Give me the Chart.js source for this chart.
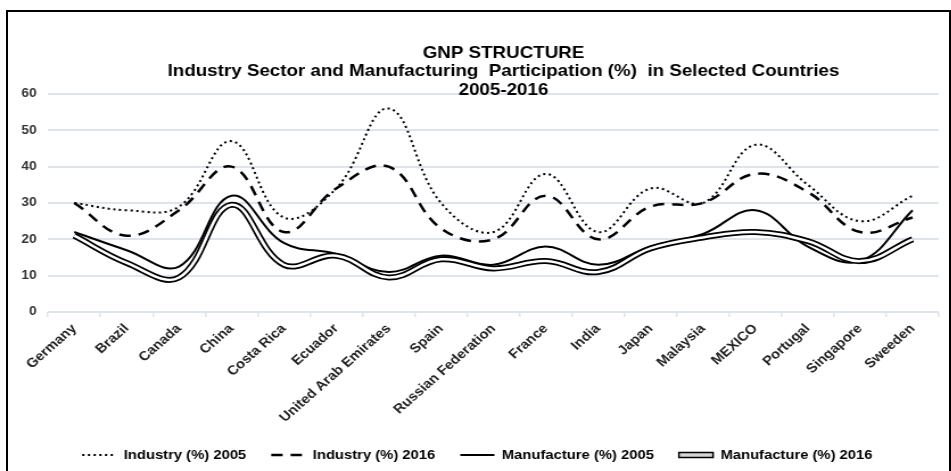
<!DOCTYPE html>
<html>
<head>
<meta charset="utf-8">
<script src="https://cdn.jsdelivr.net/npm/chart.js@4.4.1/dist/chart.umd.min.js"></script>
<style>
  body { margin: 0; background: #fff; }
  #frame {
    position: absolute; left: 6px; top: 10px; width: 941px; height: 470px;
    border-left: 2px solid #000; border-top: 2px solid #000; border-right: 2px solid #000;
  }
  #frame canvas { display: block; }
</style>
</head>
<body>
<div id="frame">
  <!-- drawn at 827 wide and shown at 941: the source picture is stretched sideways the same way -->
  <canvas id="gnpChart" width="827" height="462" style="width:941px;height:462px"></canvas>
</div>
<script>
const countries = ['Germany', 'Brazil', 'Canada', 'China', 'Costa Rica', 'Ecuador', 'United Arab Emirates', 'Spain',
  'Russian Federation', 'France', 'India', 'Japan', 'Malaysia', 'MEXICO', 'Portugal', 'Singapore', 'Sweeden'];

const industry2005 = [30, 28, 29, 47, 26, 34, 56, 30, 22, 38, 22, 34, 30, 46, 35, 25, 32];
const industry2016 = [30, 21, 28, 40, 22, 34, 40, 23, 20, 32, 20, 29, 30, 38, 33, 22, 26];
const manufacture2005 = [22, 17, 12.5, 32, 19, 16, 11, 15.5, 13, 18, 13, 18, 21.5, 28, 18, 14, 28];
const manufacture2016 = [21, 13.5, 9.5, 29.5, 13, 15.5, 9.5, 14.5, 12, 14, 11, 17.5, 20.5, 22, 19.5, 14, 20];

const yTicks = [0, 10, 20, 30, 40, 50, 60];

const fontFamily = "'Liberation Sans', Arial, sans-serif";
const gridColor = '#dfe3ea';
const pad = '\u00a0'.repeat(10); // the title sits right of the chart centre

// legend items in dataset order, drawn as short line samples; the double line gets an outlined bar
function legendItems(chart) {
  const items = Chart.defaults.plugins.legend.labels.generateLabels(chart);
  return items
    .filter(it => it.datasetIndex !== 4)
    .sort((a, b) => a.datasetIndex - b.datasetIndex)
    .map(it => {
      const ds = chart.data.datasets[it.datasetIndex];
      if (it.datasetIndex === 3) {
        it.pointStyle = 'rect';
        it.fillStyle = '#d4d4d4';
        it.strokeStyle = '#000';
        it.lineWidth = 1.5;
        it.lineDash = [];
      } else {
        it.pointStyle = 'line';
        it.strokeStyle = '#000';
        it.lineWidth = ds.borderWidth;
        it.lineDash = ds.borderDash || [];
      }
      return it;
    });
}

new Chart(document.getElementById('gnpChart'), {
  type: 'line',
  data: {
    labels: countries,
    datasets: [
      {
        label: 'Industry (%) 2005',
        data: industry2005,
        borderColor: '#000',
        borderWidth: 2,
        borderDash: [2, 3],
        order: 2,
      },
      {
        label: 'Industry (%) 2016',
        data: industry2016,
        borderColor: '#000',
        borderWidth: 2.5,
        borderDash: [10, 7],
        order: 2,
      },
      {
        label: 'Manufacture (%) 2005',
        data: manufacture2005,
        borderColor: '#000',
        borderWidth: 2,
        order: 2,
      },
      {
        label: 'Manufacture (%) 2016',
        data: manufacture2016,
        borderColor: '#000',
        backgroundColor: '#d4d4d4',
        borderWidth: 6,
        order: 1,
      },
      {
        // white core of the double line
        label: 'core',
        data: manufacture2016,
        borderColor: '#fff',
        borderWidth: 2.5,
        order: 0,
      },
    ],
  },
  options: {
    responsive: false,
    animation: false,
    elements: {
      point: { radius: 0, hoverRadius: 0 },
      line: { tension: 0.4, fill: false },
    },
    layout: { padding: { top: 32, left: 7, right: 9, bottom: 2.5 } },
    plugins: {
      tooltip: { enabled: false },
      title: {
        display: true,
        text: [pad + 'GNP STRUCTURE',
               pad + 'Industry Sector and Manufacturing  Participation (%)  in Selected Countries',
               pad + '2005-2016'],
        color: '#000',
        font: { family: fontFamily, size: 16.5, weight: 'bold', lineHeight: 1.12 },
        padding: { top: 0, bottom: -5.5 },
      },
      legend: {
        position: 'bottom',
        labels: {
          generateLabels: legendItems,
          usePointStyle: true,
          pointStyleWidth: 30,
          boxWidth: 30,
          boxHeight: 5,
          color: '#000',
          padding: 22,
          font: { family: fontFamily, size: 13, weight: 'bold' },
        },
      },
    },
    scales: {
      x: {
        offset: true,
        grid: { drawOnChartArea: false, drawTicks: true, tickLength: 5, color: gridColor, lineWidth: 1.5, offset: true },
        border: { display: false },
        ticks: {
          color: '#222',
          maxRotation: 45,
          minRotation: 45,
          autoSkip: false,
          padding: 4,
          font: { family: fontFamily, size: 13, weight: 'bold' },
        },
        afterFit: (scale) => { scale.height = 114.5; },
      },
      y: {
        min: 0,
        max: 60,
        afterBuildTicks: (scale) => { scale.ticks = yTicks.map(v => ({ value: v })); },
        grid: { color: gridColor, lineWidth: 2, drawTicks: false },
        border: { display: false },
        ticks: {
          color: '#333',
          padding: 10,
          font: { family: fontFamily, size: 12, weight: 'bold' },
        },
        afterFit: (scale) => { scale.width = 28.2; },
      },
    },
  },
});
</script>
</body>
</html>
